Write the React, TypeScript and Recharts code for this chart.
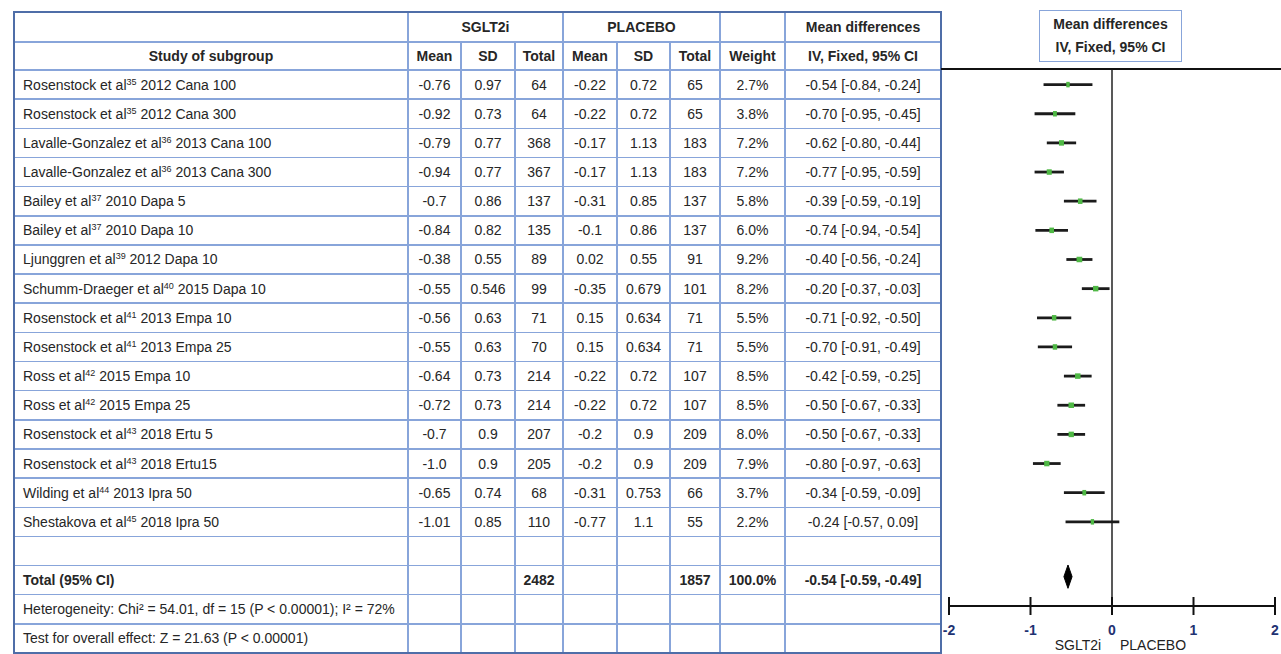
import React from 'react';
import { ScatterChart, Scatter, XAxis, YAxis, ReferenceLine, ReferenceArea } from 'recharts';

// ---------- data ----------
const studyNames = [
  'Rosenstock et al', 'Rosenstock et al', 'Lavalle-Gonzalez et al', 'Lavalle-Gonzalez et al',
  'Bailey et al', 'Bailey et al', 'Ljunggren et al', 'Schumm-Draeger et al',
  'Rosenstock et al', 'Rosenstock et al', 'Ross et al', 'Ross et al',
  'Rosenstock et al', 'Rosenstock et al', 'Wilding et al', 'Shestakova et al',
];
const studyRefs = ['35', '35', '36', '36', '37', '37', '39', '40', '41', '41', '42', '42', '43', '43', '44', '45'];
const studyTails = [
  '2012 Cana 100', '2012 Cana 300', '2013 Cana 100', '2013 Cana 300',
  '2010 Dapa 5', '2010 Dapa 10', '2012 Dapa 10', '2015 Dapa 10',
  '2013 Empa 10', '2013 Empa 25', '2015 Empa 10', '2015 Empa 25',
  '2018 Ertu 5', '2018 Ertu15', '2013 Ipra 50', '2018 Ipra 50',
];
const sgltMean = ['-0.76', '-0.92', '-0.79', '-0.94', '-0.7', '-0.84', '-0.38', '-0.55', '-0.56', '-0.55', '-0.64', '-0.72', '-0.7', '-1.0', '-0.65', '-1.01'];
const sgltSD = ['0.97', '0.73', '0.77', '0.77', '0.86', '0.82', '0.55', '0.546', '0.63', '0.63', '0.73', '0.73', '0.9', '0.9', '0.74', '0.85'];
const sgltN = [64, 64, 368, 367, 137, 135, 89, 99, 71, 70, 214, 214, 207, 205, 68, 110];
const placeboMean = ['-0.22', '-0.22', '-0.17', '-0.17', '-0.31', '-0.1', '0.02', '-0.35', '0.15', '0.15', '-0.22', '-0.22', '-0.2', '-0.2', '-0.31', '-0.77'];
const placeboSD = ['0.72', '0.72', '1.13', '1.13', '0.85', '0.86', '0.55', '0.679', '0.634', '0.634', '0.72', '0.72', '0.9', '0.9', '0.753', '1.1'];
const placeboN = [65, 65, 183, 183, 137, 137, 91, 101, 71, 71, 107, 107, 209, 209, 66, 55];
const weights = [2.7, 3.8, 7.2, 7.2, 5.8, 6.0, 9.2, 8.2, 5.5, 5.5, 8.5, 8.5, 8.0, 7.9, 3.7, 2.2];
const meanDiff = [-0.54, -0.70, -0.62, -0.77, -0.39, -0.74, -0.40, -0.20, -0.71, -0.70, -0.42, -0.50, -0.50, -0.80, -0.34, -0.24];
const ciLow = [-0.84, -0.95, -0.80, -0.95, -0.59, -0.94, -0.56, -0.37, -0.92, -0.91, -0.59, -0.67, -0.67, -0.97, -0.59, -0.57];
const ciHigh = [-0.24, -0.45, -0.44, -0.59, -0.19, -0.54, -0.24, -0.03, -0.50, -0.49, -0.25, -0.33, -0.33, -0.63, -0.09, 0.09];

const totalLabel = 'Total (95% CI)';
const totalSglt = 2482;
const totalPlacebo = 1857;
const totalWeight = 100.0;
const totalMD = -0.54;
const totalLow = -0.59;
const totalHigh = -0.49;
const heterogeneityText = 'Heterogeneity: Chi² = 54.01, df = 15 (P < 0.00001); I² = 72%';
const overallText = 'Test for overall effect: Z = 21.63 (P < 0.00001)';

const axisTicks = [-2, -1, 0, 1, 2];
const axisLeftLabel = 'SGLT2i';
const axisRightLabel = 'PLACEBO';

// ---------- layout ----------
const FONT = '"Liberation Sans", Arial, Helvetica, sans-serif';
const TEXT = '#262626';
const GRID = '#88a5da';
const OUTER = '#4f6ea8';
const colX = [14, 408, 461, 515, 563, 617, 670, 720, 785, 941];
const H1_TOP = 12;
const H1_BOT = 42;
const H2_BOT = 70;
const ROW_H = 29.15;
const N_BODY = 20; // 16 studies + empty + total + 2 text rows
const rowTop = (i: number) => H2_BOT + ROW_H * i;

const fmt = (v: number) => v.toFixed(2);
const mdText = (m: number, lo: number, hi: number) => `${fmt(m)} [${fmt(lo)}, ${fmt(hi)}]`;

type CellOpts = { align?: 'left' | 'center'; bold?: boolean };

function Cell(props: { left: number; top: number; width: number; height: number; children?: React.ReactNode } & CellOpts) {
  const { left, top, width, height, children, align = 'center', bold = false } = props;
  return (
    <div
      style={{
        position: 'absolute',
        left,
        top,
        width,
        height,
        display: 'flex',
        alignItems: 'center',
        justifyContent: align === 'left' ? 'flex-start' : 'center',
        paddingLeft: align === 'left' ? 9 : 0,
        boxSizing: 'border-box',
        fontFamily: FONT,
        fontSize: 14,
        fontWeight: bold ? 700 : 400,
        color: TEXT,
        whiteSpace: 'nowrap',
      }}
    >
      {children}
    </div>
  );
}

function Table() {
  const els: React.ReactNode[] = [];
  const bodyBottom = rowTop(N_BODY);
  // horizontal lines
  const hy = [H1_BOT, H2_BOT];
  for (let k = 1; k < N_BODY; k++) hy.push(rowTop(k));
  hy.forEach((y, k) =>
    els.push(
      <div key={'h' + k} style={{ position: 'absolute', left: colX[0], top: y - 0.75, width: colX[9] - colX[0], height: 1.5, background: GRID }} />
    )
  );
  // vertical lines
  for (let c = 1; c < 9; c++) {
    const full = [1, 4, 7, 8].includes(c);
    const top = full ? H1_TOP : H1_BOT;
    els.push(
      <div key={'v' + c} style={{ position: 'absolute', left: colX[c] - 0.75, top, width: 1.5, height: bodyBottom - top, background: GRID }} />
    );
  }
  // header row 1
  els.push(<Cell key="hs" left={colX[1]} top={H1_TOP} width={colX[4] - colX[1]} height={H1_BOT - H1_TOP} bold>SGLT2i</Cell>);
  els.push(<Cell key="hp" left={colX[4]} top={H1_TOP} width={colX[7] - colX[4]} height={H1_BOT - H1_TOP} bold>PLACEBO</Cell>);
  els.push(<Cell key="hm" left={colX[8]} top={H1_TOP} width={colX[9] - colX[8]} height={H1_BOT - H1_TOP} bold>Mean differences</Cell>);
  // header row 2
  const h2 = ['Study of subgroup', 'Mean', 'SD', 'Total', 'Mean', 'SD', 'Total', 'Weight', 'IV, Fixed, 95% CI'];
  h2.forEach((t, c) =>
    els.push(
      <Cell key={'h2' + c} left={colX[c]} top={H1_BOT} width={colX[c + 1] - colX[c]} height={H2_BOT - H1_BOT} bold>
        {t}
      </Cell>
    )
  );
  // study rows
  studyNames.forEach((name, i) => {
    const top = rowTop(i);
    const vals: React.ReactNode[] = [
      <span key="n">
        {name}
        <span style={{ fontSize: 9, position: 'relative', top: -5 }}>{studyRefs[i]}</span> {studyTails[i]}
      </span>,
      sgltMean[i],
      sgltSD[i],
      String(sgltN[i]),
      placeboMean[i],
      placeboSD[i],
      String(placeboN[i]),
      weights[i].toFixed(1) + '%',
      mdText(meanDiff[i], ciLow[i], ciHigh[i]),
    ];
    vals.forEach((v, c) =>
      els.push(
        <Cell key={`r${i}c${c}`} left={colX[c]} top={top} width={colX[c + 1] - colX[c]} height={ROW_H} align={c === 0 ? 'left' : 'center'}>
          {v}
        </Cell>
      )
    );
  });
  // total row
  const tTop = rowTop(17);
  const totals: [number, string][] = [
    [0, totalLabel],
    [3, String(totalSglt)],
    [6, String(totalPlacebo)],
    [7, totalWeight.toFixed(1) + '%'],
    [8, mdText(totalMD, totalLow, totalHigh)],
  ];
  totals.forEach(([c, t]) =>
    els.push(
      <Cell key={'t' + c} left={colX[c]} top={tTop} width={colX[c + 1] - colX[c]} height={ROW_H} align={c === 0 ? 'left' : 'center'} bold>
        {t}
      </Cell>
    )
  );
  els.push(<Cell key="het" left={colX[0]} top={rowTop(18)} width={colX[1] - colX[0]} height={ROW_H} align="left">{heterogeneityText}</Cell>);
  els.push(<Cell key="ov" left={colX[0]} top={rowTop(19)} width={colX[1] - colX[0]} height={ROW_H} align="left">{overallText}</Cell>);
  // outer border
  els.push(
    <div key="outer" style={{ position: 'absolute', left: 13, top: 11, width: colX[9] - 13 + 1, height: bodyBottom - 11 + 1, border: `2px solid ${OUTER}`, boxSizing: 'border-box' }} />
  );
  return <>{els}</>;
}

const AxisTick = (props: any) => {
  const { x, y, payload } = props;
  return (
    <g>
      <line x1={x} x2={x} y1={y - 9} y2={y + 9} stroke="#111" strokeWidth={2} />
      <text x={x} y={y + 29} textAnchor="middle" fontFamily={FONT} fontSize={14} fontWeight={700} fill="#1f3272">
        {payload.value}
      </text>
    </g>
  );
};

const Marker = (props: any) => {
  const { cx, cy, payload } = props;
  if (cx == null || cy == null) return <g />;
  const w = 2.5 + payload.w * 0.35;
  const h = 5.5;
  return <rect x={cx - w / 2} y={cy - h / 2} width={w} height={h} fill="#4fb845" />;
};

const Diamond = (props: any) => {
  const { x, y, width, height } = props;
  const d = `M${x},${y + height / 2} L${x + width / 2},${y} L${x + width},${y + height / 2} L${x + width / 2},${y + height} Z`;
  return <path d={d} fill="#000" stroke="#000" strokeWidth={1} />;
};

function Forest() {
  const points = meanDiff.map((m, i) => ({ x: m, y: i, w: weights[i] }));
  return (
    <ScatterChart width={340} height={654} margin={{ top: 69, right: 6, bottom: 0, left: 8 }}>
      <XAxis
        type="number"
        dataKey="x"
        domain={[-2, 2]}
        ticks={axisTicks}
        allowDataOverflow
        axisLine={{ stroke: '#111', strokeWidth: 2 }}
        tickLine={false}
        tickSize={0}
        tickMargin={0}
        height={48}
        tick={<AxisTick />}
        interval={0}
      />
      <YAxis type="number" dataKey="y" domain={[-0.535, 17.887]} reversed hide allowDataOverflow />
      <ReferenceLine x={0} stroke="#222" strokeWidth={1.5} />
      {meanDiff.map((_, i) => (
        <ReferenceLine
          key={'ci' + i}
          segment={[
            { x: ciLow[i], y: i },
            { x: ciHigh[i], y: i },
          ]}
          stroke="#1b1b1b"
          strokeWidth={2.8}
        />
      ))}
      <ReferenceArea x1={totalLow} x2={totalHigh} y1={16.48} y2={17.28} shape={Diamond} />
      <Scatter data={points} shape={Marker} isAnimationActive={false} />
    </ScatterChart>
  );
}

export default function App() {
  return (
    <div style={{ position: 'absolute', left: 0, top: 0, width: 1281, height: 654, overflow: 'hidden', background: '#fff' }}>
      <Table />
      <div style={{ position: 'absolute', left: 941, top: 0 }}>
        <Forest />
      </div>
      <div style={{ position: 'absolute', left: 941, top: 68, width: 340, height: 2, background: '#111' }} />
      <div
        style={{
          position: 'absolute',
          left: 1039,
          top: 10,
          width: 143,
          height: 52,
          border: `1.5px solid ${GRID}`,
          boxSizing: 'border-box',
          background: '#fff',
          fontFamily: FONT,
          fontSize: 14,
          fontWeight: 700,
          color: TEXT,
          textAlign: 'center',
          lineHeight: '23px',
          paddingTop: 2,
        }}
      >
        <div>Mean differences</div>
        <div>IV, Fixed, 95% CI</div>
      </div>
      <svg style={{ position: 'absolute', left: 0, top: 0 }} width={1281} height={654}>
        <text x={1078} y={650} textAnchor="middle" fontFamily={FONT} fontSize={14} fill="#222">{axisLeftLabel}</text>
        <text x={1153} y={650} textAnchor="middle" fontFamily={FONT} fontSize={14} fill="#222">{axisRightLabel}</text>
      </svg>
    </div>
  );
}
